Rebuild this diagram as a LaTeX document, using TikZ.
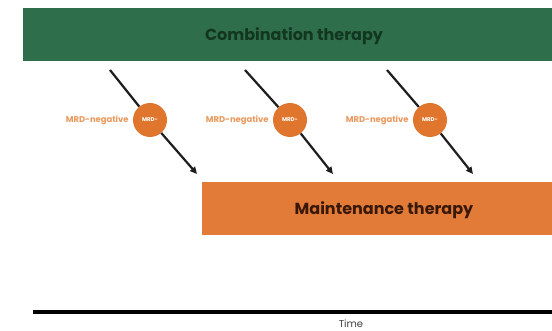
\documentclass[tikz,border=0pt]{standalone}
\usepackage{fontspec}
\setmainfont{Poppins}
\usetikzlibrary{arrows.meta}

\definecolor{comboGreen}{HTML}{2F6E4B}
\definecolor{comboText}{HTML}{12361F}
\definecolor{maintOrange}{HTML}{E27A38}
\definecolor{maintText}{HTML}{3A1808}
\definecolor{mrdOrange}{HTML}{E0762E}
\definecolor{mrdLabel}{HTML}{E9995E}
\definecolor{lineGray}{HTML}{1E1E1E}

\tikzset{
  barbox/.style={rectangle, inner sep=0pt},
  barlabel/.style={font=\bfseries\fontsize{16}{18}\selectfont},
  mrdcircle/.style={circle, fill=mrdOrange, minimum size=34pt, inner sep=0pt,
    text=white, font=\bfseries\fontsize{5.5}{6.5}\selectfont},
  mrdlabel/.style={text=mrdLabel, inner sep=0pt, font=\bfseries\fontsize{8.4}{10}\selectfont},
  flow/.style={draw=lineGray, line width=2.2pt},
  flowarrow/.style={flow, -{Triangle[length=7pt,width=6.5pt]}}
}

\begin{document}
\begin{tikzpicture}[x=1pt, y=-1pt]
  \useasboundingbox (0,0) rectangle (552,331);
  \fill[white] (0,0) rectangle (552,331);

  % therapy bars
  \node[barbox, fill=comboGreen, minimum width=529pt, minimum height=53pt,
        anchor=north west] (combo) at (23,8) {};
  \node[barlabel, text=comboText] (combolabel) at (294,36) {Combination therapy};

  \node[barbox, fill=maintOrange, minimum width=350pt, minimum height=53pt,
        anchor=north west] (maint) at (202,182) {};
  \node[barlabel, text=maintText] (maintlabel) at (384,210) {Maintenance therapy};

  % MRD checkpoints
  \foreach \i/\cx/\sx/\ex in {1/150/110/197, 2/290/245/333, 3/430/387/473}{
    \node[mrdcircle] (mrd\i) at (\cx,120) {MRD-};
    \node[mrdlabel, anchor=east] (neg\i) at ([xshift=-4pt]mrd\i.west) {MRD-negative};
    \coordinate (start\i) at (\sx,70);
    \coordinate (end\i) at (\ex,174);
    \draw[flow] (start\i) -- (mrd\i);
    \draw[flowarrow] (mrd\i) -- (end\i);
  }

  % time axis
  \coordinate (axisL) at (33,312);
  \coordinate (axisR) at (552,312);
  \draw[black, line width=4pt] (axisL) -- (axisR);
  \node[text=black!75, font=\fontsize{10}{12}\selectfont] (time) at (351,324) {Time};
\end{tikzpicture}
\end{document}
